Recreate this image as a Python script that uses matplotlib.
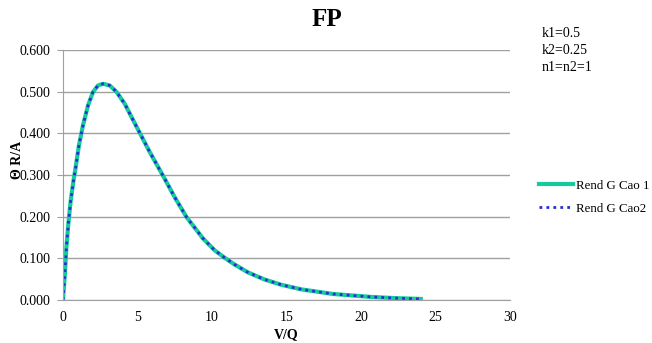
import matplotlib
matplotlib.use("Agg")
import matplotlib.pyplot as plt

vq = [0, 0.13, 0.23, 0.36, 0.52, 0.72, 0.85, 1.07, 1.34, 1.68, 2.01, 2.35, 2.69,
      3.13, 3.58, 4.14, 4.7, 5.15, 5.82, 6.71, 7.5, 8.28, 9.4, 10.17, 10.84, 11.5,
      12.4, 13.5, 14.65, 15.99, 18.1, 20.6, 22.3, 24]
rend_cao1 = [0, 0.063, 0.127, 0.183, 0.239, 0.290, 0.318, 0.371, 0.419, 0.467, 0.499,
             0.515, 0.519, 0.515, 0.500, 0.471, 0.432, 0.401, 0.355, 0.298, 0.246,
             0.199, 0.147, 0.119, 0.101, 0.085, 0.066, 0.049, 0.036, 0.025, 0.014,
             0.007, 0.004, 0.002]
rend_cao2 = list(rend_cao1)

params_text = "k1=0.5\nk2=0.25\nn1=n2=1"

plt.rcParams['font.family'] = ['Liberation Serif', 'DejaVu Serif']

fig = plt.figure(figsize=(6.52, 3.43), dpi=100)
ax = fig.add_axes([0.0966, 0.126, 0.686, 0.728])

ax.plot(vq, rend_cao1, color='#14CC9A', linewidth=3, label='Rend G Cao 1',
        solid_joinstyle='round')
ax.plot(vq, rend_cao2, color='#2B2BD8', linewidth=2, linestyle=(0, (1, 1.5)),
        label='Rend G Cao2')

ax.set_xlim(0, 30)
ax.set_ylim(0, 0.6)
ax.set_xticks([0, 5, 10, 15, 20, 25, 30])
ax.set_yticks([0, 0.1, 0.2, 0.3, 0.4, 0.5, 0.6])
ax.yaxis.set_major_formatter(matplotlib.ticker.FormatStrFormatter('%.3f'))
ax.grid(axis='y', color='#A0A0A0', linewidth=1)
ax.set_axisbelow(True)
for s in ['top', 'right']:
    ax.spines[s].set_visible(False)
for s in ['left', 'bottom']:
    ax.spines[s].set_color('#A0A0A0')
ax.tick_params(axis='both', labelsize=10, length=0)
ax.tick_params(axis='x', pad=8)
ax.tick_params(axis='y', length=4, color='#A0A0A0', pad=5)

ax.set_xlabel('V/Q', fontweight='bold', fontsize=10, labelpad=3)
ax.set_ylabel('Θ R/A', fontweight='bold', fontsize=10)
ax.yaxis.set_label_coords(-0.088, 0.56)

fig.text(0.502, 0.942, 'FP', fontweight='bold', fontsize=18, ha='center', va='center')
fig.text(0.831, 0.922, params_text, fontsize=10, ha='left', va='top', linespacing=1.4)

ax.legend(loc='center left', bbox_to_anchor=(1.047, 0.41), frameon=False, fontsize=9.3,
          handlelength=2.6, handletextpad=0.25, labelspacing=0.85, borderaxespad=0.2)

fig.savefig('out.png', dpi=100)
